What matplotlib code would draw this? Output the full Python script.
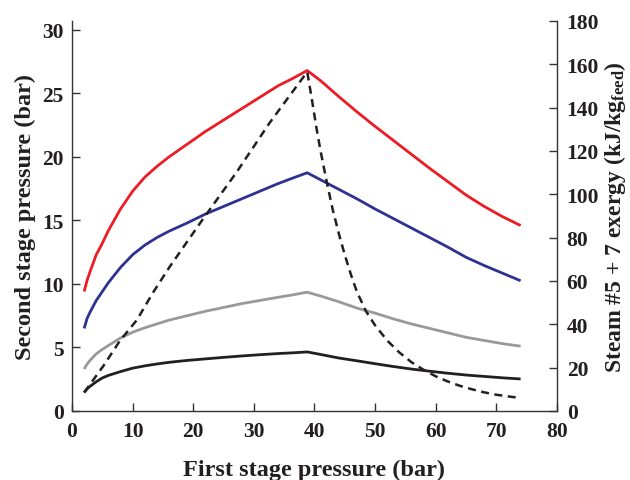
import matplotlib
matplotlib.use("Agg")
import matplotlib.pyplot as plt

plt.rcParams['font.family'] = ['Liberation Serif', 'DejaVu Serif']
plt.rcParams['font.weight'] = 'bold'
plt.rcParams['mathtext.fontset'] = 'custom'
plt.rcParams['mathtext.rm'] = 'Liberation Serif:bold'
plt.rcParams['mathtext.it'] = 'Liberation Serif:bold'
plt.rcParams['mathtext.bf'] = 'Liberation Serif:bold'

# First stage pressure (bar)
p1 = [2.0, 2.5, 3.0, 4.0, 5.0, 6.0, 8.0, 10.0, 12.0, 14.0, 16.0, 19.0,
      22.0, 25.0, 28.0, 31.0, 34.0, 36.5, 38.8,
      41.0, 44.0, 47.0, 50.0, 53.0, 56.0, 59.0, 62.0, 65.0, 68.0, 71.0, 74.0]

# Second stage pressure (bar) for each case
p2_red = [9.4, 10.3, 11.0, 12.3, 13.2, 14.2, 15.9, 17.3, 18.4, 19.25, 20.0, 21.0,
          22.0, 22.9, 23.8, 24.7, 25.6, 26.2, 26.8,
          26.0, 24.75, 23.55, 22.4, 21.3, 20.2, 19.1, 18.05, 17.0, 16.1, 15.3, 14.6]
p2_blue = [6.5, 7.3, 7.8, 8.7, 9.4, 10.1, 11.3, 12.3, 13.05, 13.65, 14.15, 14.8,
           15.5, 16.1, 16.7, 17.3, 17.9, 18.35, 18.75,
           18.2, 17.45, 16.7, 15.9, 15.15, 14.4, 13.65, 12.9, 12.1, 11.45, 10.85, 10.25]
p2_gray = [3.3, 3.7, 4.0, 4.5, 4.85, 5.15, 5.75, 6.2, 6.55, 6.85, 7.15, 7.5,
           7.85, 8.15, 8.45, 8.7, 8.95, 9.15, 9.35,
           9.05, 8.6, 8.1, 7.7, 7.25, 6.85, 6.5, 6.15, 5.8, 5.55, 5.3, 5.1]
p2_black = [1.45, 1.75, 1.95, 2.3, 2.6, 2.8, 3.1, 3.37, 3.55, 3.7, 3.83, 3.98,
            4.1, 4.22, 4.33, 4.43, 4.52, 4.58, 4.65,
            4.45, 4.17, 3.95, 3.72, 3.5, 3.3, 3.13, 2.97, 2.83, 2.72, 2.61, 2.52]

# Steam #5 + 7 exergy (kJ/kg feed)
p1_ex = [2.0, 5.2, 7.9, 10.7, 13.4, 16.1, 21.6, 27.1, 32.6, 38.8,
         39.5, 40.3, 41.0, 42.0, 43.0, 44.0, 45.0, 46.0, 47.0, 48.5, 50.0,
         52.0, 54.0, 56.0, 58.0, 60.0, 62.0, 64.0, 66.0, 68.0, 70.0, 72.0, 74.0]
exergy = [8.5, 20.9, 32.4, 42.0, 54.8, 66.5, 88.6, 110.0, 133.0, 156.5,
          145.0, 131.0, 120.0, 106.0, 93.0, 82.0, 72.0, 63.0, 55.0, 46.0, 39.5,
          32.5, 27.0, 22.5, 19.0, 16.0, 13.6, 11.6, 10.0, 8.6, 7.5, 6.7, 6.0]

txt = '#231f20'
fig = plt.figure(figsize=(6.30, 4.81), dpi=100)
ax = fig.add_axes([0.1143, 0.1435, 0.7698, 0.8108])

lw = 2.0
ax.plot(p1, p2_red, color='#ed1c24', lw=lw, solid_capstyle='butt')
ax.plot(p1, p2_blue, color='#2e3192', lw=lw, solid_capstyle='butt')
ax.plot(p1, p2_gray, color='#999999', lw=lw, solid_capstyle='butt')
ax.plot(p1, p2_black, color=txt, lw=lw, solid_capstyle='butt')

ax.set_xlim(0, 80)
ax.set_ylim(0, 30.7)
ax.set_xticks(range(0, 81, 10))
ax.set_yticks(range(0, 31, 5))

ax2 = ax.twinx()
ax2.plot(p1_ex, exergy, color=txt, lw=1.8, linestyle=(0, (3.2, 2.2)))
ax2.set_ylim(0, 180)
ax2.set_yticks(range(0, 181, 20))

for a in (ax, ax2):
    a.spines['top'].set_visible(False)
    for s in a.spines.values():
        s.set_color('#333333')
        s.set_linewidth(1.0)
    a.tick_params(direction='in', length=6, width=1.0, colors='#333333',
                  labelcolor=txt, labelsize=15.5)
ax2.spines['left'].set_visible(False)
ax2.spines['bottom'].set_visible(False)
ax.spines['right'].set_visible(False)
ax.tick_params(axis='x', pad=7)
ax.tick_params(axis='y', pad=6)
ax2.tick_params(axis='y', pad=7)

ax.set_xlabel('First stage pressure (bar)', fontsize=17.5, color=txt,
              fontweight='bold', labelpad=13)
ax.set_ylabel('Second stage pressure (bar)', fontsize=17.5, color=txt,
              fontweight='bold', labelpad=4)
ax2.set_ylabel(r'Steam #5 + 7 exergy (kJ/kg$_{\mathrm{feed}}$)', fontsize=17,
               color=txt, fontweight='bold', labelpad=2)

fig.savefig('out.png', dpi=100)
